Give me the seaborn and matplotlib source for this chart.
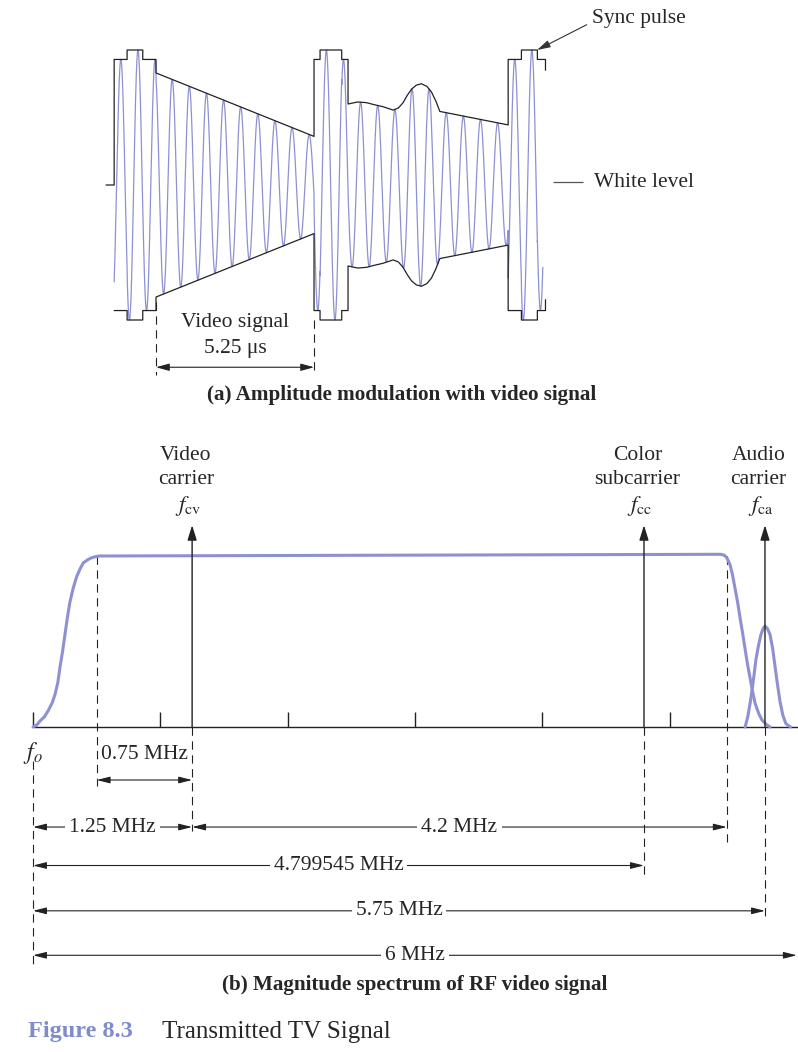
import matplotlib
import numpy as np

matplotlib.use("Agg")

import matplotlib.pyplot as plt
import seaborn as sns

# ---- (a) AM video waveform: envelope ----
# time in microseconds (0 = start of the video line), half-amplitude with sync tip = 1
env_t = [-1.39, -0.96, -0.96, -0.44, -0.44, 0.0, 0.0, 5.25, 5.25, 5.45, 5.45,
         6.17, 6.17, 6.38, 6.38, 6.7, 6.99, 7.25, 7.54, 7.88, 8.05, 8.21, 8.35,
         8.49, 8.65, 8.82, 9.0, 9.15, 9.3, 9.43,
         11.70, 11.70, 12.14, 12.14, 12.67, 12.67, 12.94, 12.94]
env_a = [0.93, 0.93, 1.0, 1.0, 0.93, 0.93, 0.83, 0.36, 0.93, 0.93, 1.0,
         1.0, 0.93, 0.93, 0.60, 0.615, 0.61, 0.595, 0.58, 0.555, 0.57, 0.61, 0.665,
         0.71, 0.74, 0.75, 0.73, 0.69, 0.62, 0.545,
         0.445, 0.93, 0.93, 1.0, 1.0, 0.93, 0.93, 0.85]
carrier_period = 0.569   # us, counted from the peaks
carrier_phase = -0.03    # us, time of the first peak in the video line
carrier_stop = 12.85
video_len = 5.25

# ---- (b) magnitude spectrum: frequency in MHz above f_o, height with plateau = 1 ----
rise_f = [0.0, 0.03, 0.055, 0.09, 0.12, 0.15, 0.173, 0.195, 0.212, 0.232, 0.251,
          0.27, 0.29, 0.315, 0.343, 0.37, 0.395, 0.43, 0.461, 0.49, 0.52]
rise_h = [0.0, 0.012, 0.035, 0.06, 0.096, 0.14, 0.19, 0.26, 0.35, 0.44, 0.54,
          0.64, 0.73, 0.81, 0.88, 0.925, 0.96, 0.978, 0.99, 0.996, 1.0]
top_f = [0.52, 5.40]
top_h = [1.0, 1.01]
fall_f = [5.40, 5.43, 5.45, 5.475, 5.495, 5.515, 5.535, 5.554, 5.574, 5.593,
          5.612, 5.632, 5.652, 5.672, 5.70, 5.727, 5.76, 5.79]
fall_h = [1.01, 1.005, 0.99, 0.95, 0.89, 0.81, 0.73, 0.64, 0.55, 0.46,
          0.37, 0.29, 0.21, 0.14, 0.08, 0.04, 0.015, 0.0]
audio_f = [5.594, 5.615, 5.64, 5.66, 5.68, 5.70, 5.718, 5.735, 5.75, 5.77, 5.79,
           5.81, 5.828, 5.848, 5.868, 5.89, 5.914, 5.95]
audio_h = [0.0, 0.06, 0.17, 0.28, 0.40, 0.48, 0.54, 0.575, 0.59, 0.575, 0.54,
           0.46, 0.36, 0.25, 0.15, 0.07, 0.02, 0.0]

carrier_freqs = [1.25, 4.799545, 5.75]
carrier_line1 = ["Video", "Color", "Audio"]
carrier_line2 = ["carrier", "subcarrier", "carrier"]
carrier_syms = [r"$f_{\mathrm{cv}}$", r"$f_{\mathrm{cc}}$", r"$f_{\mathrm{ca}}$"]
tick_freqs = [0, 1, 2, 3, 4, 5]

# dimension lines: (start, stop) in MHz
dim_labels = ["0.75 MHz", "1.25 MHz", "4.2 MHz", "4.799545 MHz", "5.75 MHz", "6 MHz"]
dim_start = [0.5, 0.0, 1.25, 0.0, 0.0, 0.0]
dim_stop = [1.25, 1.25, 5.45, 4.799545, 5.75, 6.0]

# layout (not data): row heights of the dimension lines, dashed guide extents
dim_rows = [-0.31, -0.585, -0.585, -0.81, -1.075, -1.335]
guide_f = [0.0, 0.5, 1.25, 4.799545, 5.45, 5.75]
guide_top = [-0.2, 1.0, 0.0, 0.0, 1.0, 0.0]
guide_bot = [-1.39, -0.345, -0.61, -0.88, -0.67, -1.12]

BLUE = "#8d91d2"
INK = "#222222"
W, H = 798, 1052
FS = 15.5

sns.set_theme(style="white")
plt.rcParams["font.family"] = ["Liberation Serif", "DejaVu Serif"]
plt.rcParams["mathtext.fontset"] = "stix"
plt.rcParams["lines.scale_dashes"] = False
plt.rcParams["lines.solid_joinstyle"] = "round"

fig = plt.figure(figsize=(W / 100, H / 100), dpi=100)
fig.patch.set_facecolor("white")

# ---------------- panel (a) ----------------
ax_a = fig.add_axes([0, 1 - 380 / H, 1, 380 / H])
ax_a.set_xlim(-156 / 30.1, 642 / 30.1)
ax_a.set_ylim(-195 / 135, 185 / 135)
ax_a.axis("off")

t = np.linspace(env_t[0], carrier_stop, 6000)
env = np.interp(t, env_t, env_a)
wave = env * np.cos(2 * np.pi * (t - carrier_phase) / carrier_period)
sns.lineplot(x=t, y=wave, ax=ax_a, color=BLUE, lw=0.9, estimator=None, sort=False)

up_t = [-1.66, env_t[0]] + env_t
up_a = [0.0, 0.0] + env_a
sns.lineplot(x=up_t, y=up_a, ax=ax_a, color=INK, lw=0.9, estimator=None, sort=False)
sns.lineplot(x=env_t, y=[-a for a in env_a], ax=ax_a, color=INK, lw=0.9,
             estimator=None, sort=False)

ax_a.vlines([0.0, video_len], [-0.87, -1.0], [-1.41, -1.41], colors=INK,
            lw=0.8, linestyles=(0, (6, 4)))
ax_a.annotate("", xy=(video_len, -1.35), xytext=(0.0, -1.35),
              arrowprops=dict(arrowstyle="<|-|>,head_length=0.8,head_width=0.22",
                              color=INK, lw=0.8, shrinkA=0, shrinkB=0,
                              mutation_scale=10))
ax_a.text(video_len / 2, -1.02, "Video signal", ha="center", va="center", fontsize=FS)
ax_a.text(video_len / 2, -1.21, "5.25 \u03bcs", ha="center", va="center", fontsize=FS)

ax_a.annotate("Sync pulse", xy=(12.66, 1.0), xytext=(14.5, 1.237),
              ha="left", va="center", fontsize=FS,
              arrowprops=dict(arrowstyle="-|>,head_length=0.8,head_width=0.22",
                              color="#333333", lw=0.8, shrinkA=2, shrinkB=0,
                              mutation_scale=10, relpos=(0, 0.3)))
ax_a.hlines(0.02, 13.2, 14.2, colors="#555555", lw=0.9)
ax_a.text(14.55, 0.02, "White level", ha="left", va="center", fontsize=FS)

fig.text(402 / W, 1 - 395 / H, "(a) Amplitude modulation with video signal",
         ha="center", va="center", fontsize=15.2, fontweight="bold")

# ---------------- panel (b) ----------------
ax_b = fig.add_axes([0, 1 - 1000 / H, 1, 580 / H])
ax_b.set_xlim(-33 / 127.3, 765 / 127.3)
ax_b.set_ylim((727 - 1000) / 171, (727 - 420) / 171)
ax_b.axis("off")

spec_f = rise_f + top_f + fall_f
spec_h = rise_h + top_h + fall_h
sns.lineplot(x=spec_f, y=spec_h, ax=ax_b, color=BLUE, lw=2.2, estimator=None,
             sort=False, zorder=3)
sns.lineplot(x=audio_f, y=audio_h, ax=ax_b, color=BLUE, lw=2.2, estimator=None,
             sort=False, zorder=3)

ax_b.hlines(0, 0, 6.05, colors=INK, lw=1.0, zorder=2)
ax_b.vlines(tick_freqs, 0, 0.085, colors=INK, lw=1.0)

ax_b.vlines(guide_f, guide_top, guide_bot, colors=INK, lw=0.8,
            linestyles=(0, (6, 4)), zorder=1)

for f, l1, l2, sym in zip(carrier_freqs, carrier_line1, carrier_line2, carrier_syms):
    ax_b.annotate("", xy=(f, 1.18), xytext=(f, 0.0),
                  arrowprops=dict(arrowstyle="-|>,head_length=0.9,head_width=0.28",
                                  color=INK, lw=1.0, shrinkA=0, shrinkB=0,
                                  mutation_scale=10), zorder=4)
    ax_b.text(f - 0.05, 1.585, l1, ha="center", va="center", fontsize=FS)
    ax_b.text(f - 0.05, 1.45, l2, ha="center", va="center", fontsize=FS)
    ax_b.text(f - 0.03, 1.29, sym, ha="center", va="center", fontsize=16.5)

ax_b.text(0.0, -0.15, r"$f_o$", ha="center", va="center", fontsize=17)

for lab, f0, f1, row in zip(dim_labels, dim_start, dim_stop, dim_rows):
    ax_b.annotate("", xy=(f1, row), xytext=(f0, row),
                  arrowprops=dict(arrowstyle="<|-|>,head_length=0.8,head_width=0.2",
                                  color=INK, lw=0.8, shrinkA=0, shrinkB=0,
                                  mutation_scale=10), zorder=2)
    if row == dim_rows[0]:
        ax_b.text((f0 + f1) / 2, -0.16, lab, ha="center", va="center", fontsize=FS)
    else:
        ax_b.text((f0 + f1) / 2, row, lab, ha="center", va="center", fontsize=FS,
                  zorder=5, bbox=dict(facecolor="white", edgecolor="none", pad=3))

fig.text(415 / W, 1 - 985 / H, "(b) Magnitude spectrum of RF video signal",
         ha="center", va="center", fontsize=15.2, fontweight="bold")

fig.text(28 / W, 1 - 1032 / H, "Figure 8.3", ha="left", va="center",
         fontsize=17.5, fontweight="bold", color="#7f8ccb")
fig.text(162 / W, 1 - 1032 / H, "Transmitted TV Signal", ha="left", va="center",
         fontsize=18)

fig.savefig("out.png", dpi=100, facecolor="white")
